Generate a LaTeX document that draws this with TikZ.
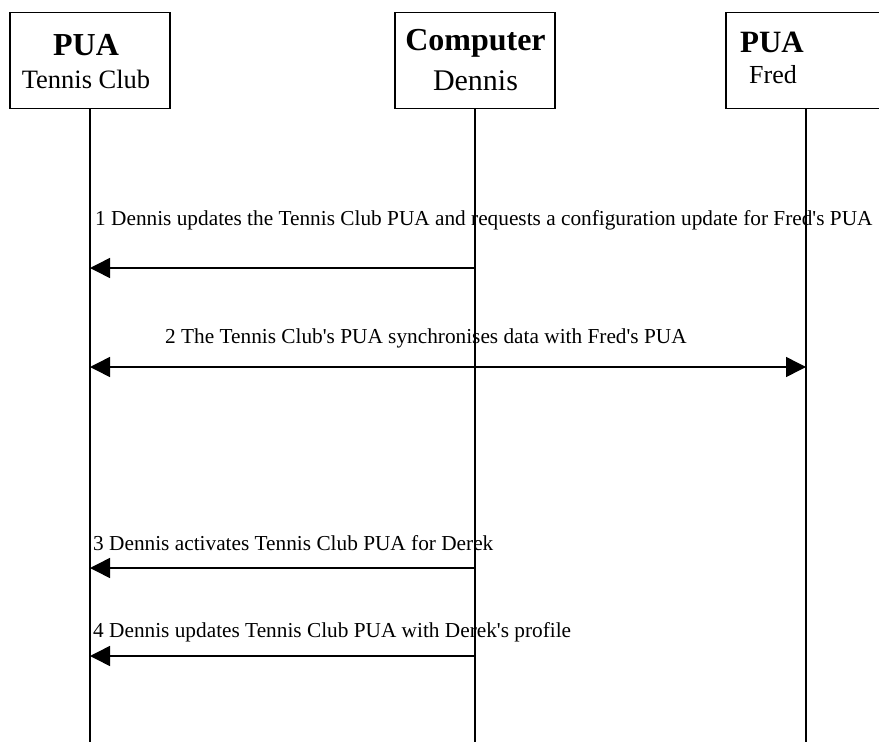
\documentclass[tikz,border=0pt]{standalone}
\usepackage{fontspec}
\newfontfamily\lserif{Liberation Serif}
\usetikzlibrary{arrows.meta}
\begin{document}
\begin{tikzpicture}[x=1pt,y=-1pt,
  box/.style={draw,line width=1.3pt,minimum width=160pt,minimum height=96pt,inner sep=0pt,anchor=north},
  life/.style={line width=1.6pt},
  tip/.tip={Triangle[length=20pt,width=20pt]},
  msg/.style={line width=1.5pt,-tip},
  lbl/.style={anchor=base west,inner sep=0pt,font=\lserif\fontsize{21.3}{24}\selectfont},
  hbold/.style={anchor=base,inner sep=0pt,font=\lserif\bfseries\fontsize{32}{36}\selectfont},
  hreg/.style={anchor=base,inner sep=0pt,font=\lserif\fontsize{#1}{#1}\selectfont}]
\useasboundingbox (0,0) rectangle (879,742);
% header boxes
\node[box] (b1) at (90,12) {};
\node[box] (b2) at (475,12) {};
\node[box] (b3) at (806,12) {};
% header texts
\node[hbold] (t1a) at (86,55) {PUA};
\node[hreg=26.5] (t1b) at (86,88) {Tennis Club};
\node[hbold] (t2a) at (475.5,50) {Computer};
\node[hreg=30] (t2b) at (475.5,90) {Dennis};
\node[hbold,font=\lserif\bfseries\fontsize{31}{34}\selectfont] (t3a) at (772,52) {PUA};
\node[hreg=26] (t3b) at (773,83) {Fred};
% lifelines
\coordinate (e1) at (90,742);
\coordinate (e2) at (475,742);
\coordinate (e3) at (806,742);
\draw[life] (b1.south) -- (e1);
\draw[life] (b2.south) -- (e2);
\draw[life] (b3.south) -- (e3);
% messages
\coordinate (m1s) at (475,268); \coordinate (m1e) at (90,268);
\coordinate (m2s) at (90,367);  \coordinate (m2e) at (806,367);
\coordinate (m3s) at (475,568); \coordinate (m3e) at (90,568);
\coordinate (m4s) at (475,656); \coordinate (m4e) at (90,656);
\draw[msg] (m1s) -- (m1e);
\draw[msg,tip-tip] (m2s) -- (m2e);
\draw[msg] (m3s) -- (m3e);
\draw[msg] (m4s) -- (m4e);
% labels
\node[lbl] (l1) at (95,225) {1 Dennis updates the Tennis Club PUA and requests a configuration update for Fred's PUA};
\node[lbl] (l2) at (165,343) {2 The Tennis Club's PUA synchronises data with Fred's PUA};
\node[lbl] (l3) at (93,550) {3 Dennis activates Tennis Club PUA for Derek};
\node[lbl] (l4) at (93,637) {4 Dennis updates Tennis Club PUA with Derek's profile};
\end{tikzpicture}
\end{document}
